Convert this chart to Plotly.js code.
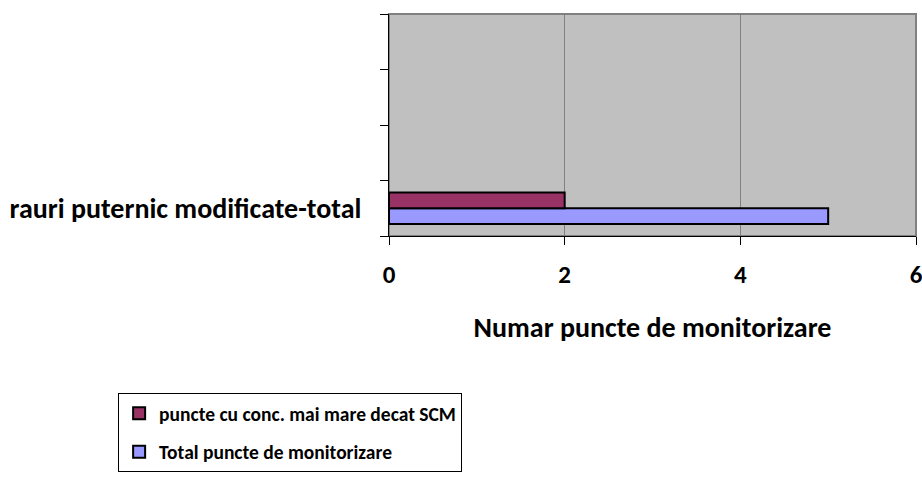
<!DOCTYPE html>
<html>
<head>
<meta charset="utf-8">
<script src="https://cdn.plot.ly/plotly-3.0.1.min.js"></script>
<style>html,body{margin:0;padding:0;background:#fff;}#chart{width:922px;height:477px;}</style>
</head>
<body>
<div id="chart"></div>
<script>
// Data
const categories = ['rauri puternic modificate-total'];
const seriesNames = ['puncte cu conc. mai mare decat SCM', 'Total puncte de monitorizare'];
const scmValues = [2];
const totalValues = [5];
const xTickValues = [0, 2, 4, 6];
const xTitle = 'Numar puncte de monitorizare';

const FONT = 'Carlito, Calibri, Lato, sans-serif';

// category slots (4 slots on the value axis, the data category sits in the first)
const slotBoundaries = [0, 1, 2, 3, 4];
const catPos = categories.map((_, i) => i + 0.5);

const traces = [
  {
    type: 'bar', orientation: 'h', name: seriesNames[1],
    y: catPos, x: totalValues,
    marker: {color: '#9999FF', line: {color: '#000000', width: 2}},
    legendgroup: 'b', legendrank: 2, hoverinfo: 'x'
  },
  {
    type: 'bar', orientation: 'h', name: seriesNames[0],
    y: catPos, x: scmValues,
    marker: {color: '#993366', line: {color: '#000000', width: 2}},
    legendgroup: 'a', legendrank: 1, hoverinfo: 'x'
  }
];

const layout = {
  width: 922, height: 477,
  margin: {l: 389, r: 6, t: 14, b: 240},
  paper_bgcolor: '#ffffff',
  plot_bgcolor: '#C0C0C0',
  barmode: 'group',
  bargap: 0.43,
  bargroupgap: 0,
  font: {family: FONT, color: '#000000'},
  xaxis: {
    range: [0, 6], tickvals: xTickValues, ticktext: xTickValues.map(String),
    showgrid: true, gridcolor: '#808080', gridwidth: 1,
    zeroline: false, showline: true, linecolor: '#000000', linewidth: 1,
    ticks: 'outside', ticklen: 8, tickcolor: '#000000',
    ticklabeloverflow: 'allow', ticklabelstandoff: 8,
    tickfont: {family: FONT, size: 25, weight: 'bold'},
    title: {text: xTitle, font: {family: FONT, size: 28, weight: 'bold'}, standoff: 28}
  },
  yaxis: {
    range: [0, 4],
    tickvals: catPos, ticktext: categories,
    showgrid: false, zeroline: false, showline: true, linecolor: '#000000', linewidth: 1,
    ticks: '', tickfont: {family: FONT, size: 28, weight: 'bold'},
    ticklabelstandoff: 21,
    minor: {tickvals: slotBoundaries, ticks: 'outside', ticklen: 8, tickcolor: '#000000', showgrid: false}
  },
  shapes: [{
    type: 'rect', xref: 'paper', yref: 'paper', x0: 0, x1: 1, y0: 0, y1: 1,
    line: {color: '#808080', width: 2}, layer: 'below'
  }],
  showlegend: true,
  legend: {
    x: -0.514, y: -0.700, xanchor: 'left', yanchor: 'top',
    bgcolor: '#ffffff', bordercolor: '#000000', borderwidth: 1,
    traceorder: 'grouped', tracegroupgap: 10,
    font: {family: FONT, size: 19.5, weight: 'bold'},
    itemwidth: 30
  }
};

Plotly.newPlot('chart', traces, layout, {displayModeBar: false, staticPlot: true});
</script>
</body>
</html>
